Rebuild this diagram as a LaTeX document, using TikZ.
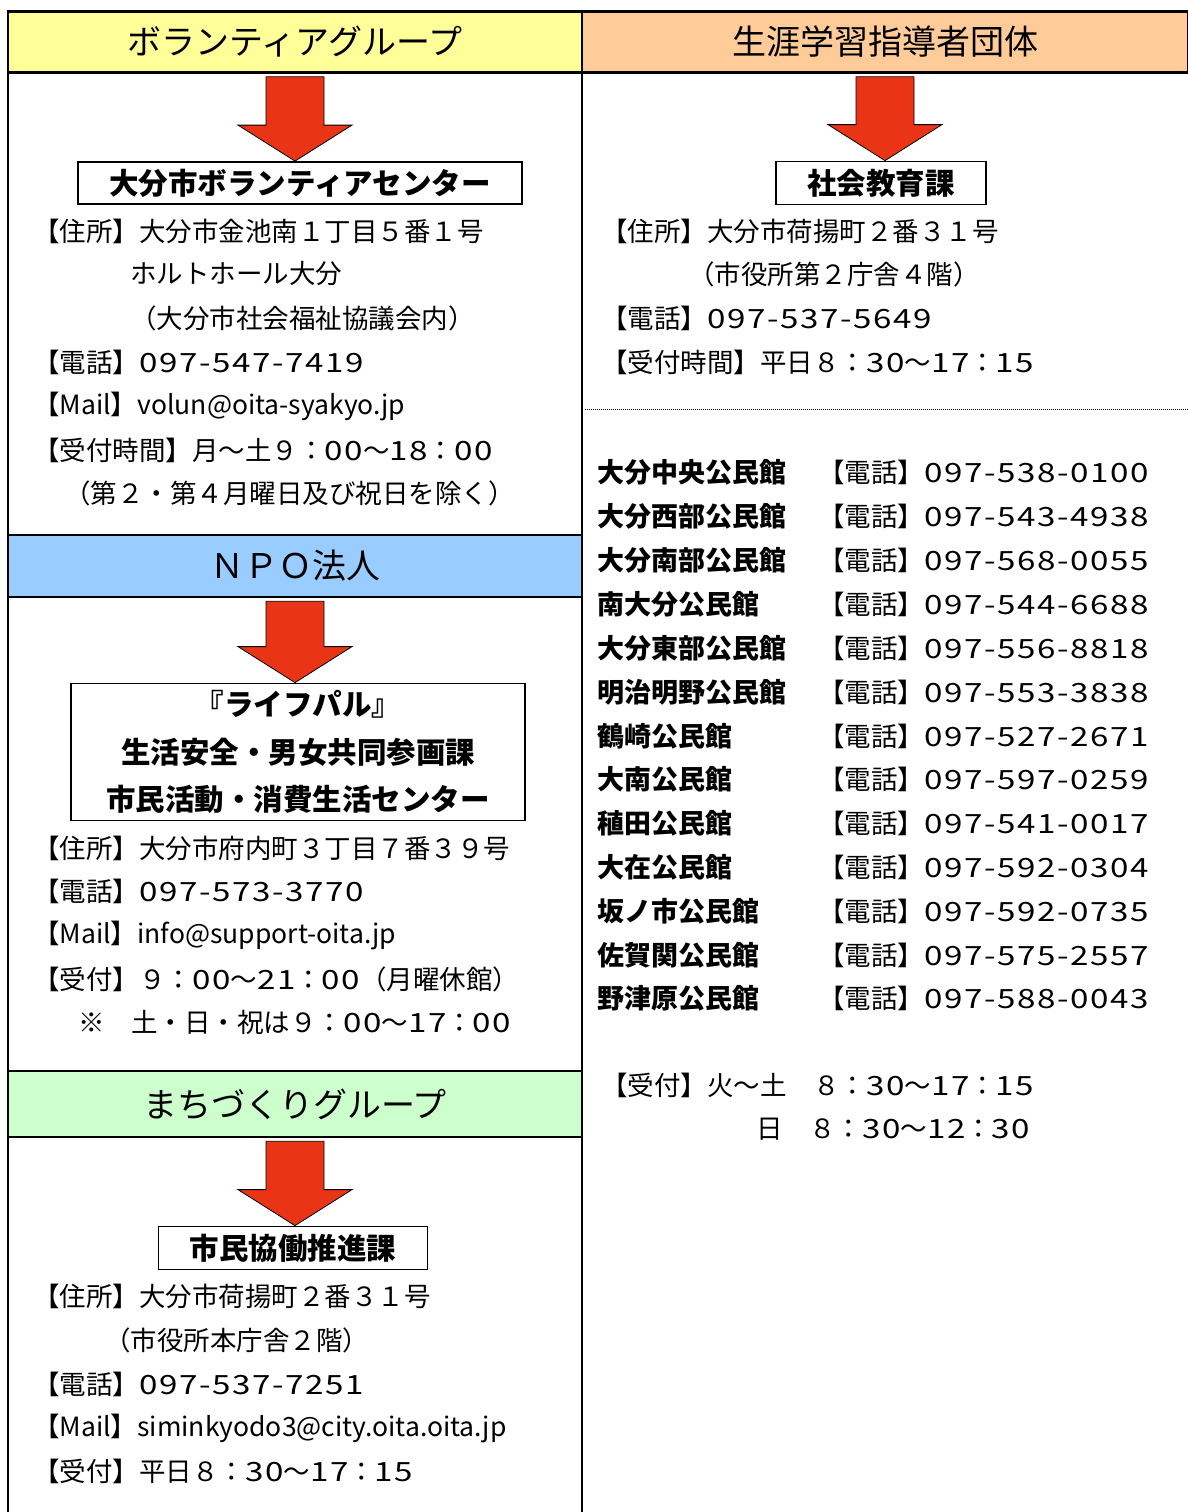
\documentclass[tikz,border=0pt]{standalone}
\usepackage{fontspec}
\setmainfont{Noto Sans CJK JP}
\newfontfamily\widenum{Noto Sans CJK JP}[FakeStretch=1.25, LetterSpace=6]
\newcommand\wn[1]{{\widenum #1}}
\usepackage{xcolor}
\usepackage{tikz}
\usetikzlibrary{calc}

\definecolor{volyellow}{HTML}{FFFF99}
\definecolor{lrnorange}{HTML}{FFCC99}
\definecolor{npoblue}{HTML}{99CCFF}
\definecolor{towngreen}{HTML}{CCFFCC}
\definecolor{arrowred}{HTML}{EA3416}

% block arrow from a header (#1) down to its office box (#2)
\newcommand\guidearrow[2]{%
  \filldraw[fill=arrowred, draw=black, line width=0.8pt]
    let \p1=(#1.south), \p2=(#2.north) in
    (\x1-29,\y1-3) -- (\x1+29,\y1-3) -- (\x1+29,\y2+36) -- (\x1+57,\y2+36)
    -- (\x1,\y2) -- (\x1-57,\y2+36) -- (\x1-29,\y2+36) -- cycle;
}

\begin{document}
\begin{tikzpicture}[x=1pt, y=-1pt,
    hdr/.style={draw, line width=2.5pt, inner sep=0pt, font=\fontsize{34}{40}\selectfont},
    orgbox/.style={draw, line width=1.8pt, inner sep=0pt, font=\fontsize{29.5}{47.5}\selectfont\bfseries},
    info/.style={anchor=west, inner sep=0pt, font=\fontsize{26.5}{32}\selectfont},
    hall/.style={anchor=west, inner sep=0pt, font=\fontsize{27}{32}\selectfont\bfseries},
    frame/.style={line width=2.5pt}
  ]
    \useasboundingbox (0,0) rectangle (1188,1512);

    % Headers
    \node[hdr, fill=volyellow, minimum width=574pt, minimum height=61pt] (hVol) at (295,42) {ボランティアグループ};
    \node[hdr, fill=lrnorange, minimum width=606pt, minimum height=61pt] (hLrn) at (885,42) {生涯学習指導者団体};
    \node[hdr, fill=npoblue, minimum width=574pt, minimum height=62pt] (hNpo) at (295,566) {ＮＰＯ法人};
    \node[hdr, fill=towngreen, minimum width=574pt, minimum height=66pt] (hTown) at (295,1104) {まちづくりグループ};

    % Column rules
    \draw[frame] (8,12) -- (8,1512);
    \draw[frame] (582,12) -- (582,1512);

    % Volunteer group
    \node[orgbox, minimum width=444pt, minimum height=42pt] (bVol) at (300,183) {大分市ボランティアセンター};
    \guidearrow{hVol}{bVol}
    \node[info] (vAddr) at (33,231) {【住所】大分市金池南１丁目５番１号};
    \node[info] (vHall) at (130,274) {ホルトホール大分};
    \node[info] (vCsw) at (130,318) {（大分市社会福祉協議会内）};
    \node[info] (vTel) at (33,362) {【電話】\wn{097-547-7419}};
    \node[info] (vMail) at (33,406) {【Mail】volun@oita-syakyo.jp};
    \node[info] (vHour) at (33,450) {【受付時間】月～土９：\wn{00}～\wn{18}：\wn{00}};
    \node[info] (vNote) at (64,493) {（第２・第４月曜日及び祝日を除く）};

    % NPO
    \node[orgbox, minimum width=454pt, minimum height=137pt, align=center] (bNpo) at (298,752)
      {『ライフパル』\\生活安全・男女共同参画課\\市民活動・消費生活センター};
    \guidearrow{hNpo}{bNpo}
    \node[info] (nAddr) at (33,848) {【住所】大分市府内町３丁目７番３９号};
    \node[info] (nTel) at (33,891) {【電話】\wn{097-573-3770}};
    \node[info] (nMail) at (33,935) {【Mail】info@support-oita.jp};
    \node[info] (nHour) at (33,979) {【受付】９：\wn{00}～\wn{21}：\wn{00}（月曜休館）};
    \node[info] (nNote) at (78,1022) {※　土・日・祝は９：\wn{00}～\wn{17}：\wn{00}};

    % Town planning group
    \node[orgbox, minimum width=269pt, minimum height=43pt] (bTown) at (293,1248) {市民協働推進課};
    \guidearrow{hTown}{bTown}
    \node[info] (tAddr) at (33,1296) {【住所】大分市荷揚町２番３１号};
    \node[info] (tFloor) at (104,1340) {（市役所本庁舎２階）};
    \node[info] (tTel) at (33,1384) {【電話】\wn{097-537-7251}};
    \node[info] (tMail) at (33,1428) {【Mail】siminkyodo3@city.oita.oita.jp};
    \node[info] (tHour) at (33,1471) {【受付】平日８：\wn{30}～\wn{17}：\wn{15}};

    % Lifelong learning leaders
    \node[orgbox, minimum width=210pt, minimum height=43pt] (bLrn) at (881,183) {社会教育課};
    \guidearrow{hLrn}{bLrn}
    \node[info] (lAddr) at (601,231) {【住所】大分市荷揚町２番３１号};
    \node[info] (lFloor) at (688,274) {（市役所第２庁舎４階）};
    \node[info] (lTel) at (601,318) {【電話】\wn{097-537-5649}};
    \node[info] (lHour) at (601,362) {【受付時間】平日８：\wn{30}～\wn{17}：\wn{15}};
    \draw[line width=1pt, dash pattern=on 1pt off 1pt] (585,409) -- (1188,409);

    % Community halls
    \node[hall] (k1) at (597,472) {大分中央公民館};
    \node[info] (p1) at (818,472) {【電話】\wn{097-538-0100}};
    \node[hall] (k2) at (597,516) {大分西部公民館};
    \node[info] (p2) at (818,516) {【電話】\wn{097-543-4938}};
    \node[hall] (k3) at (597,560) {大分南部公民館};
    \node[info] (p3) at (818,560) {【電話】\wn{097-568-0055}};
    \node[hall] (k4) at (597,604) {南大分公民館};
    \node[info] (p4) at (818,604) {【電話】\wn{097-544-6688}};
    \node[hall] (k5) at (597,648) {大分東部公民館};
    \node[info] (p5) at (818,648) {【電話】\wn{097-556-8818}};
    \node[hall] (k6) at (597,692) {明治明野公民館};
    \node[info] (p6) at (818,692) {【電話】\wn{097-553-3838}};
    \node[hall] (k7) at (597,736) {鶴崎公民館};
    \node[info] (p7) at (818,736) {【電話】\wn{097-527-2671}};
    \node[hall] (k8) at (597,779) {大南公民館};
    \node[info] (p8) at (818,779) {【電話】\wn{097-597-0259}};
    \node[hall] (k9) at (597,823) {稙田公民館};
    \node[info] (p9) at (818,823) {【電話】\wn{097-541-0017}};
    \node[hall] (k10) at (597,867) {大在公民館};
    \node[info] (p10) at (818,867) {【電話】\wn{097-592-0304}};
    \node[hall] (k11) at (597,911) {坂ノ市公民館};
    \node[info] (p11) at (818,911) {【電話】\wn{097-592-0735}};
    \node[hall] (k12) at (597,955) {佐賀関公民館};
    \node[info] (p12) at (818,955) {【電話】\wn{097-575-2557}};
    \node[hall] (k13) at (597,998) {野津原公民館};
    \node[info] (p13) at (818,998) {【電話】\wn{097-588-0043}};

    \node[info] (kHour) at (601,1085) {【受付】火～土　８：\wn{30}～\wn{17}：\wn{15}};
    \node[info] (kSun) at (756,1129) {日　８：\wn{30}～\wn{12}：\wn{30}};
\end{tikzpicture}
\end{document}
